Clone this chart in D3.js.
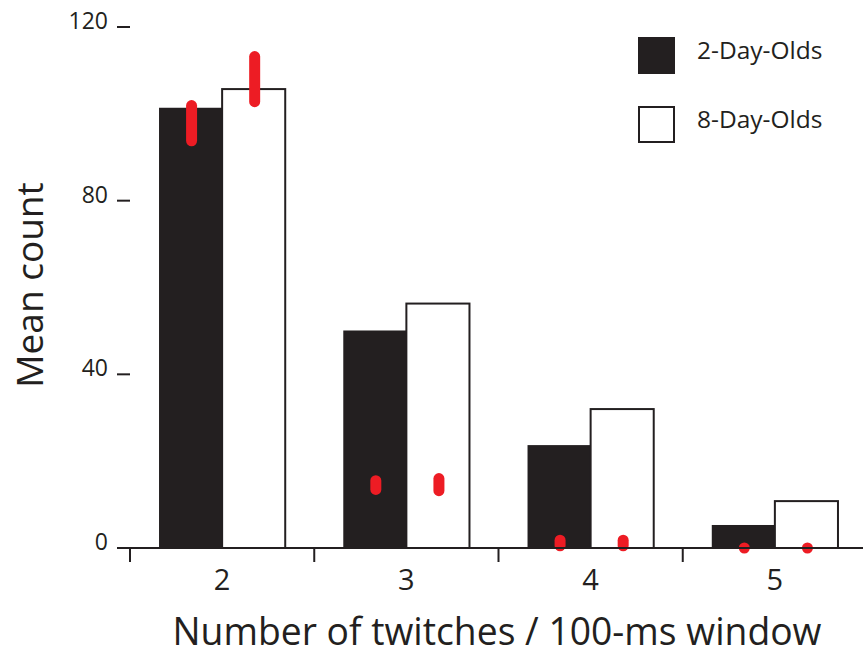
<!DOCTYPE html>
<html>
<head>
<meta charset="utf-8">
<script src="https://cdn.jsdelivr.net/npm/d3@7"></script>
<style>
  body { margin: 0; background: #fff; }
  text { font-family: "Open Sans", "Noto Sans", sans-serif; fill: #231f20; }
</style>
</head>
<body>
<svg id="chart" width="863" height="655"></svg>
<script>
// data
const categories = ["2", "3", "4", "5"];
const series = ["2-Day-Olds", "8-Day-Olds"];
const meanTwo = [101.4, 50.1, 23.7, 5.3];
const meanEight = [105.7, 56.3, 32, 10.8];
// red ranges (low, high) drawn over each bar
const rangeTwo = [[93.8, 101.9], [13.5, 15.5], [0.5, 1.8], [0, 0]];
const rangeEight = [[102.8, 113.2], [13.2, 16], [0.5, 1.8], [0, 0]];
const yTicks = [0, 40, 80, 120];

const ink = "#231f20";
const red = "#ed1c24";

const svg = d3.select("#chart");

const y = d3.scaleLinear().domain([0, 120]).range([548, 27]);

const x0 = d3.scaleBand()
    .domain(categories)
    .range([130, 867])
    .padding(0);

const x1 = d3.scaleBand()
    .domain(series)
    .range([0, x0.bandwidth()])
    .paddingInner(0)
    .paddingOuter(0.46);

const rows = categories.map((c, i) => ({
    cat: c,
    values: [
        { s: series[0], v: meanTwo[i], r: rangeTwo[i] },
        { s: series[1], v: meanEight[i], r: rangeEight[i] }
    ]
}));

// bars
let groups = svg.selectAll("g.group")
    .data(rows)
    .enter()
    .append("g")
    .attr("class", "group")
    .attr("transform", d => `translate(${x0(d.cat)},0)`);

groups.selectAll("rect")
    .data(d => d.values)
    .enter()
    .append("rect")
    .attr("x", d => x1(d.s))
    .attr("y", d => y(d.v))
    .attr("width", x1.bandwidth())
    .attr("height", d => y(0) - y(d.v))
    .attr("fill", d => d.s === series[0] ? ink : "#fff")
    .attr("stroke", ink)
    .attr("stroke-width", d => d.s === series[0] ? 0 : 2);

// x axis line + boundary ticks
svg.append("line")
    .attr("x1", 128).attr("x2", 863)
    .attr("y1", y(0)).attr("y2", y(0))
    .attr("stroke", ink).attr("stroke-width", 2);

svg.selectAll("line.xtick")
    .data(categories)
    .enter()
    .append("line")
    .attr("class", "xtick")
    .attr("x1", d => x0(d)).attr("x2", d => x0(d))
    .attr("y1", y(0)).attr("y2", y(0) + 14)
    .attr("stroke", ink).attr("stroke-width", 2);

// red ranges on top
groups.selectAll("line.range")
    .data(d => d.values)
    .enter()
    .append("line")
    .attr("class", "range")
    .attr("x1", d => x1(d.s) + x1.bandwidth() / 2 + 1)
    .attr("x2", d => x1(d.s) + x1.bandwidth() / 2 + 1)
    .attr("y1", d => y(d.r[0]))
    .attr("y2", d => y(d.r[1]))
    .attr("stroke", red)
    .attr("stroke-width", 11)
    .attr("stroke-linecap", "round");

// category labels under group centres
svg.selectAll("text.xlab")
    .data(categories)
    .enter()
    .append("text")
    .attr("class", "xlab")
    .attr("x", d => x0(d) + x0.bandwidth() / 2)
    .attr("y", 590)
    .attr("text-anchor", "middle")
    .attr("font-size", 29)
    .text(d => d);

// y ticks: short dash with label to the left
let yt = svg.selectAll("g.ytick")
    .data(yTicks)
    .enter()
    .append("g")
    .attr("class", "ytick")
    .attr("transform", d => `translate(0,${y(d)})`);

yt.append("line")
    .attr("x1", 117).attr("x2", 130)
    .attr("stroke", ink).attr("stroke-width", 2);

yt.append("text")
    .attr("x", 108)
    .attr("y", 2)
    .attr("text-anchor", "end")
    .attr("font-size", 23)
    .text(d => d);

// axis titles
svg.append("text")
    .attr("transform", "translate(43,285) rotate(-90)")
    .attr("text-anchor", "middle")
    .attr("font-size", 37)
    .text("Mean count");

svg.append("text")
    .attr("x", 497)
    .attr("y", 645)
    .attr("text-anchor", "middle")
    .attr("font-size", 38)
    .attr("textLength", 649)
    .attr("lengthAdjust", "spacingAndGlyphs")
    .text("Number of twitches / 100-ms window");

// legend
let legend = svg.selectAll("g.legend")
    .data(series)
    .enter()
    .append("g")
    .attr("class", "legend")
    .attr("transform", (d, i) => `translate(639,${38 + i * 69})`);

legend.append("rect")
    .attr("width", 35).attr("height", 35)
    .attr("fill", (d, i) => i === 0 ? ink : "#fff")
    .attr("stroke", ink)
    .attr("stroke-width", 2);

legend.append("text")
    .attr("x", 58)
    .attr("y", 21)
    .attr("font-size", 24.5)
    .text(d => d);
</script>
</body>
</html>
